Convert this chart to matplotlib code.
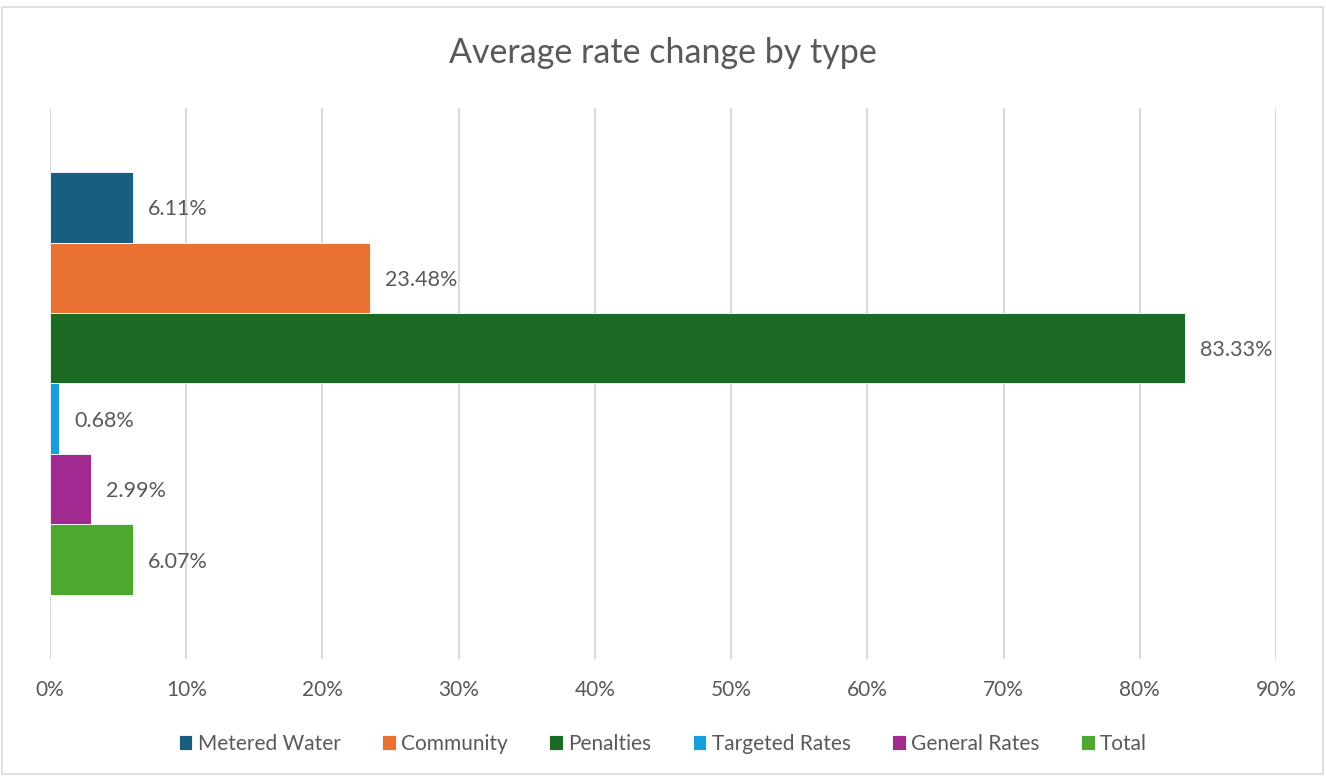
import matplotlib.pyplot as plt
from matplotlib.patches import Rectangle

plt.rcParams['font.family'] = ['Lato', 'DejaVu Sans']

# Data
series = ['Metered Water', 'Community', 'Penalties', 'Targeted Rates', 'General Rates', 'Total']
values = [6.11, 23.48, 83.33, 0.68, 2.99, 6.07]
colors = ['#175e80', '#e97233', '#1b6b25', '#169fd9', '#a02a8f', '#4ea72e']
ticks = [0, 10, 20, 30, 40, 50, 60, 70, 80, 90]

fig = plt.figure(figsize=(13.26, 7.76), dpi=100)
ax = fig.add_axes([50 / 1326, 1 - 659 / 776, 1226 / 1326, 551 / 776])

text_color = '#595959'
for i, (name, v, c) in enumerate(zip(series, values, colors)):
    ax.barh(i, v, height=1.0, color=c, label=name, zorder=3,
            edgecolor='white', linewidth=0.6)
    ax.text(v + 1.1, i + 0.03, f'{v:.2f}%', va='center', ha='left',
            fontsize=15.5, color=text_color)

ax.set_xlim(0, 90)
ax.set_ylim(6.41, -1.41)
ax.set_xticks(ticks)
ax.set_xticklabels([f'{t}%' for t in ticks], fontsize=15, color=text_color)
ax.tick_params(axis='x', length=0, pad=15)
ax.set_yticks([])
ax.grid(axis='x', color='#d9d9d9', linewidth=1.5, zorder=0)
for s in ax.spines.values():
    s.set_visible(False)

fig.text(0.5, 1 - 53 / 776, 'Average rate change by type', ha='center', va='center',
         fontsize=24.5, color=text_color)

handles, labels = ax.get_legend_handles_labels()
fig.legend(handles, labels, loc='center', bbox_to_anchor=(0.5, 1 - 744 / 776),
           ncol=6, frameon=False, fontsize=15, handlelength=0.65, handleheight=0.75,
           handletextpad=0.25, columnspacing=2.0, labelcolor=text_color)

fig.patches.append(Rectangle((2 / 1326, 2 / 776), 1321 / 1326, 767 / 776,
                             transform=fig.transFigure, fill=False,
                             edgecolor='#d9d9d9', linewidth=1.2))

fig.savefig('out.png', dpi=100)
